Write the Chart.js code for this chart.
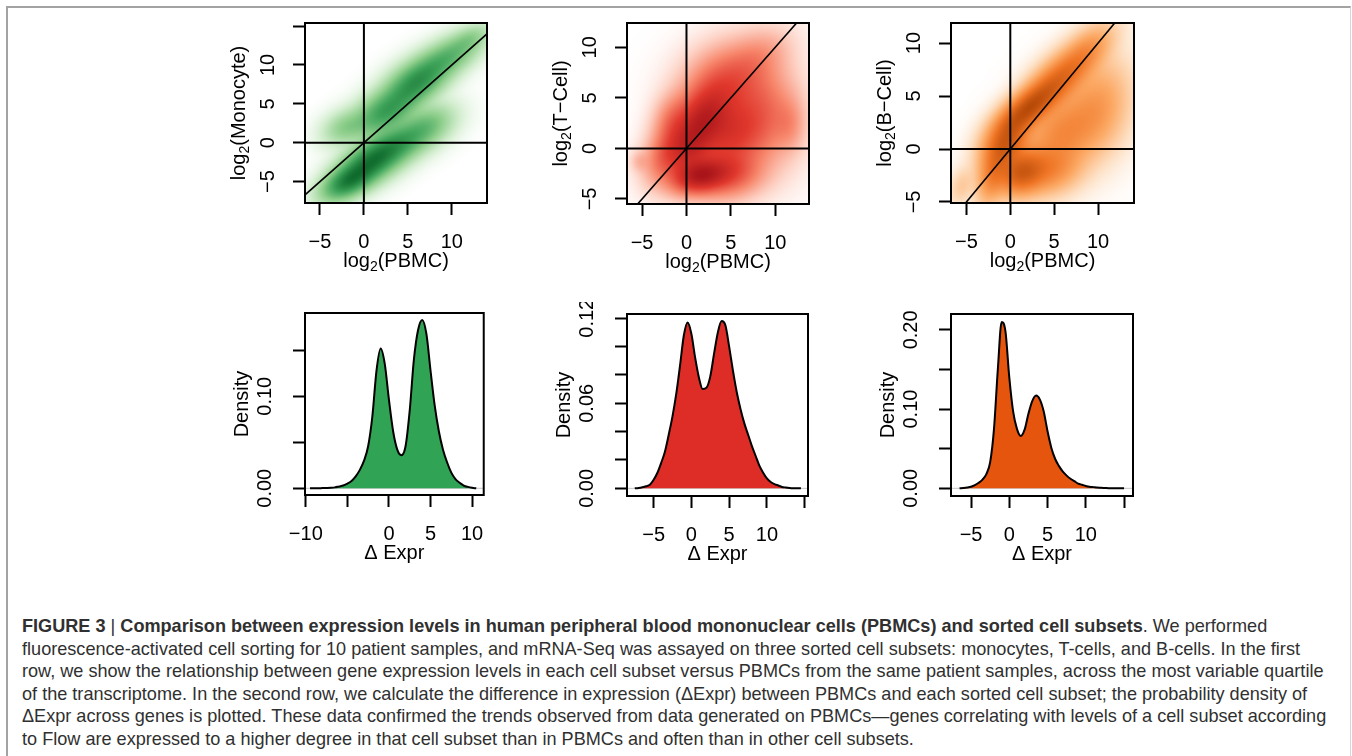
<!DOCTYPE html>
<html>
<head>
<meta charset="utf-8">
<script src="https://cdn.jsdelivr.net/npm/chart.js@4.4.1/dist/chart.umd.min.js"></script>
<style>
html, body { margin: 0; padding: 0; background: #fff; }
body { width: 1352px; height: 756px; position: relative; overflow: hidden; font-family: "Liberation Sans", Arial, sans-serif; }
#frame { position: absolute; left: 6px; top: 6px; width: 1342px; height: 800px; border-top: 2px solid #a3a3a3; border-left: 2px solid #a3a3a3; border-right: 1px solid #d6d6d6; }
#caption { position: absolute; left: 22px; top: 615px; color: #303030; font-size: 18.5px; line-height: 22.6px; white-space: nowrap; transform-origin: 0 0; }
#caption .ln { display: block; }
</style>
</head>
<body>
<div id="frame"></div>
<div id="caption">
  <div class="ln"><span><b>FIGURE 3</b> | <b>Comparison between expression levels in human peripheral blood mononuclear cells (PBMCs) and sorted cell subsets</b>. We performed</span></div>
  <div class="ln"><span>fluorescence-activated cell sorting for 10 patient samples, and mRNA-Seq was assayed on three sorted cell subsets: monocytes, T-cells, and B-cells. In the first</span></div>
  <div class="ln"><span>row, we show the relationship between gene expression levels in each cell subset versus PBMCs from the same patient samples, across the most variable quartile</span></div>
  <div class="ln"><span>of the transcriptome. In the second row, we calculate the difference in expression (ΔExpr) between PBMCs and each sorted cell subset; the probability density of</span></div>
  <div class="ln"><span>ΔExpr across genes is plotted. These data confirmed the trends observed from data generated on PBMCs—genes correlating with levels of a cell subset according</span></div>
  <div class="ln"><span>to Flow are expressed to a higher degree in that cell subset than in PBMCs and often than in other cell subsets.</span></div>
</div>
<script>
// ---------- top row: smoothed scatter clouds, blob = [x, y, sdX, sdY, rho, weight]
const monoBlobs = [
  [0.8, -2.5, 2.0, 1.7, 0.55, 1.0],
  [-1.8, -5.0, 1.6, 1.3, 0.5, 0.85],
  [3.8, -0.2, 2.0, 1.6, 0.5, 0.55],
  [7.0, 2.0, 1.7, 1.5, 0.4, 0.3],
  [6.0, 7.8, 2.0, 1.8, 0.55, 0.75],
  [2.5, 4.0, 2.0, 1.7, 0.5, 0.6],
  [9.5, 11.0, 2.0, 1.6, 0.6, 0.38],
  [-2.0, 2.0, 1.4, 1.2, 0.3, 0.18],
  [12.0, 13.3, 1.2, 1.0, 0.5, 0.14]
];
const tcellBlobs = [
  [1.5, -2.7, 1.8, 1.0, 0.2, 1.0],
  [1.8, 2.8, 1.8, 2.0, 0.3, 0.85],
  [0.0, 0.0, 1.6, 1.6, 0.2, 0.6],
  [5.0, 1.5, 2.2, 2.2, 0.1, 0.55],
  [4.5, 6.5, 2.5, 2.0, 0.2, 0.4],
  [8.5, 3.5, 2.2, 2.8, 0.0, 0.3],
  [4.5, -2.5, 2.2, 1.3, 0.1, 0.45],
  [-2.5, -1.0, 1.3, 1.5, 0.2, 0.25],
  [-1.5, 2.5, 1.2, 1.6, 0.2, 0.25],
  [8.0, 9.0, 2.0, 1.5, 0.3, 0.12],
  [-5.2, -1.3, 0.6, 0.6, 0.0, 0.06],
  [11.5, 2.5, 1.0, 1.5, 0.0, 0.12]
];
const bcellBlobs = [
  [2.0, 3.8, 2.0, 1.5, 0.7, 1.0],
  [-0.5, 0.5, 1.5, 1.5, 0.4, 0.8],
  [1.3, -2.2, 1.6, 1.2, 0.2, 0.8],
  [5.5, 6.5, 2.0, 1.6, 0.6, 0.55],
  [8.5, 9.0, 1.8, 1.5, 0.6, 0.3],
  [6.0, 1.5, 2.5, 2.2, 0.3, 0.35],
  [10.0, 4.0, 2.0, 2.5, 0.2, 0.22],
  [4.5, -2.0, 2.0, 1.3, 0.2, 0.3],
  [-2.0, -2.5, 1.0, 1.5, 0.3, 0.35],
  [-5.5, -3.5, 0.8, 1.0, 0.3, 0.06]
];
const guideSpan = [-50, 50];

const monoXRange = [-6.7, 14.0], monoYRange = [-7.75, 15.4];
const tcellXRange = [-6.7, 13.8], tcellYRange = [-5.5, 12.4];
const bcellXRange = [-6.76, 14.1], bcellYRange = [-5.1, 11.9];
const scatterXTicks = [-5, 0, 5, 10];
const scatterXLabels = ['\u22125', '0', '5', '10'];
const monoYTicks = [-5, 0, 5, 10, 15];
const monoYLabels = ['\u22125', '0', '5', '10', ''];
const cellYTicks = [-5, 0, 5, 10];
const cellYLabels = ['\u22125', '0', '5', '10'];

// ---------- bottom row: density of delta expression
const monoDeltaX = [-9.5, -9, -8.5, -8, -7.5, -7, -6.5, -6, -5.5, -5, -4.5, -4, -3.5, -3, -2.5, -2, -1.5, -1, -0.5, 0,
  0.5, 1, 1.5, 2, 2.5, 3, 3.5, 4, 4.5, 5, 5.5, 6, 6.5, 7, 7.5, 8, 8.5, 9, 9.5, 10, 10.5];
const monoDensity = [0, 0, 0, 0.0002, 0.0003, 0.0005, 0.001, 0.002, 0.003, 0.005, 0.008, 0.013, 0.020, 0.030, 0.046, 0.078, 0.128, 0.152, 0.135, 0.096,
  0.062, 0.042, 0.036, 0.046, 0.085, 0.140, 0.172, 0.183, 0.168, 0.128, 0.090, 0.062, 0.042, 0.028, 0.017, 0.010, 0.006, 0.003, 0.0015, 0.0005, 0];
const tcellDeltaX = [-7.5, -7, -6.5, -6, -5.5, -5, -4.5, -4, -3.5, -3, -2.5, -2, -1.5, -1, -0.5, 0, 0.5, 1, 1.5, 2, 2.5, 3, 3.5,
  4, 4.5, 5, 5.5, 6, 6.5, 7, 7.5, 8, 8.5, 9, 9.5, 10, 10.5, 11, 11.5, 12, 12.5, 13, 13.5, 14, 14.5];
const tcellDensity = [0, 0.0003, 0.0008, 0.0015, 0.0025, 0.006, 0.011, 0.018, 0.026, 0.038, 0.051, 0.067, 0.087, 0.108, 0.117, 0.109, 0.092, 0.078, 0.070, 0.071, 0.079, 0.095, 0.110,
  0.118, 0.115, 0.100, 0.083, 0.068, 0.056, 0.046, 0.038, 0.030, 0.023, 0.016, 0.011, 0.007, 0.0045, 0.003, 0.002, 0.001, 0.0006, 0.0003, 0.0001, 0, 0];
const bcellDeltaX = [-6.5, -6, -5.5, -5, -4.5, -4, -3.5, -3, -2.5, -2, -1.5, -1, -0.5, 0, 0.5, 1, 1.5, 2, 2.5, 3, 3.5, 4,
  4.5, 5, 5.5, 6, 6.5, 7, 7.5, 8, 8.5, 9, 9.5, 10, 10.5, 11, 11.5, 12, 12.5, 13, 13.5, 14, 14.5, 15];
const bcellDensity = [0, 0.0004, 0.001, 0.002, 0.004, 0.007, 0.011, 0.018, 0.033, 0.075, 0.150, 0.210, 0.198, 0.140, 0.097, 0.075, 0.066, 0.074, 0.094, 0.110, 0.117, 0.112,
  0.097, 0.072, 0.051, 0.037, 0.028, 0.021, 0.016, 0.012, 0.009, 0.006, 0.0045, 0.003, 0.002, 0.0015, 0.001, 0.0006, 0.0004, 0.0002, 0.0001, 0, 0, 0];

const monoDXRange = [-10.1, 11.4], monoDYRange = [-0.0073, 0.1905];
const tcellDXRange = [-8.53, 15.44], tcellDYRange = [-0.0054, 0.123];
const bcellDXRange = [-7.62, 16.17], bcellDYRange = [-0.0097, 0.220];
const monoDXTicks = [-10, -5, 0, 5, 10];
const monoDXLabels = ['\u221210', '', '0', '5', '10'];
const cellDXTicks = [-5, 0, 5, 10, 15];
const cellDXLabels = ['\u22125', '0', '5', '10', ''];
const monoDYTicks = [0, 0.05, 0.10, 0.15];
const monoDYLabels = ['0.00', '', '0.10', ''];
const tcellDYTicks = [0, 0.02, 0.04, 0.06, 0.08, 0.10, 0.12];
const tcellDYLabels = ['0.00', '', '', '0.06', '', '', '0.12'];
const bcellDYTicks = [0, 0.05, 0.10, 0.15, 0.20];
const bcellDYLabels = ['0.00', '', '0.10', '', '0.20'];

// axis titles ([text, isSubscript])
const pbmcTitle = [['log', 0], ['2', 1], ['(PBMC)', 0]];
const monoTitle = [['log', 0], ['2', 1], ['(Monocyte)', 0]];
const tcellTitle = [['log', 0], ['2', 1], ['(T\u2212Cell)', 0]];
const bcellTitle = [['log', 0], ['2', 1], ['(B\u2212Cell)', 0]];
const exprTitle = [['\u0394 Expr', 0]];
const densTitle = [['Density', 0]];

// ---------- styles
const greenRamp = ['#ffffff', '#d4eed0', '#8fcf8c', '#3fa45a', '#0e6b2c'];
const redRamp = ['#ffffff', '#fdd3c6', '#f7876c', '#e0372c', '#a8141a'];
const orangeRamp = ['#ffffff', '#fde0c4', '#fcaa66', '#ef7424', '#b84a08'];
const rampStops = [0, 0.18, 0.45, 0.72, 1];
const AXIS_FONT = '"Liberation Sans", Arial, sans-serif';
const PAD_L = 90, PAD_T = 12, PAD_R = 12, PAD_B = 72;

Chart.defaults.font.family = AXIS_FONT;

function hexRgb(h) {
  return [parseInt(h.slice(1, 3), 16), parseInt(h.slice(3, 5), 16), parseInt(h.slice(5, 7), 16)];
}

function rampColor(ramp, t) {
  t = Math.max(0, Math.min(1, t));
  for (let k = 1; k < rampStops.length; k++) {
    if (t <= rampStops[k]) {
      const f = (t - rampStops[k - 1]) / (rampStops[k] - rampStops[k - 1]);
      const a = ramp[k - 1], b = ramp[k];
      return [a[0] + (b[0] - a[0]) * f, a[1] + (b[1] - a[1]) * f, a[2] + (b[2] - a[2]) * f];
    }
  }
  return ramp[ramp.length - 1];
}

function blobField(blobs, x, y) {
  let s = 0;
  for (const b of blobs) {
    const dx = (x - b[0]) / b[2], dy = (y - b[1]) / b[3], r = b[4];
    const q = (dx * dx - 2 * r * dx * dy + dy * dy) / (1 - r * r);
    s += b[5] * Math.exp(-0.5 * q);
  }
  return s;
}

// paints the density cloud cell by cell through the chart scales
const smoothPlugin = {
  id: 'smooth',
  beforeDatasetsDraw(chart, args, opts) {
    if (!opts.blobs) return;
    const a = chart.chartArea;
    const xs = chart.scales.x, ys = chart.scales.y;
    const w = Math.round(a.right - a.left), h = Math.round(a.bottom - a.top);
    const vals = new Float32Array(w * h);
    let vmax = 0;
    for (let j = 0; j < h; j++) {
      const yv = ys.getValueForPixel(a.top + j + 0.5);
      for (let i = 0; i < w; i++) {
        const v = blobField(opts.blobs, xs.getValueForPixel(a.left + i + 0.5), yv);
        vals[j * w + i] = v;
        if (v > vmax) vmax = v;
      }
    }
    const ramp = opts.ramp.map(hexRgb);
    const off = document.createElement('canvas');
    off.width = w; off.height = h;
    const octx = off.getContext('2d');
    const img = octx.createImageData(w, h);
    for (let k = 0; k < w * h; k++) {
      const c = rampColor(ramp, Math.pow(vals[k] / vmax, 0.42));
      img.data[k * 4] = c[0]; img.data[k * 4 + 1] = c[1]; img.data[k * 4 + 2] = c[2]; img.data[k * 4 + 3] = 255;
    }
    octx.putImageData(img, 0, 0);
    chart.ctx.drawImage(off, a.left, a.top);
  }
};

function drawTitle(ctx, parts, cx, cy, rot) {
  const fonts = ['20px ' + AXIS_FONT, '14px ' + AXIS_FONT];
  ctx.save();
  ctx.translate(cx, cy);
  ctx.rotate(rot);
  ctx.textBaseline = 'middle';
  ctx.textAlign = 'left';
  ctx.fillStyle = '#000';
  let total = 0;
  parts.forEach(p => { ctx.font = fonts[p[1]]; total += ctx.measureText(p[0]).width; });
  let x = -total / 2;
  parts.forEach(p => {
    ctx.font = fonts[p[1]];
    ctx.fillText(p[0], x, p[1] ? 6 : 0);
    x += ctx.measureText(p[0]).width;
  });
  ctx.restore();
}

// box, rotated y tick labels and axis titles (R base-graphics look)
const framePlugin = {
  id: 'frame',
  afterDraw(chart, args, opts) {
    const ctx = chart.ctx, a = chart.chartArea;
    ctx.save();
    ctx.strokeStyle = '#000';
    ctx.lineWidth = 2;
    ctx.strokeRect(a.left, a.top, a.right - a.left, a.bottom - a.top);
    ctx.fillStyle = '#000';
    ctx.font = '20px ' + AXIS_FONT;
    ctx.textAlign = 'center';
    ctx.textBaseline = 'middle';
    const ys = chart.scales.y;
    ys.ticks.forEach(t => {
      if (!t.label) return;
      ctx.save();
      ctx.translate(a.left - opts.yLabelGap, ys.getPixelForValue(t.value));
      ctx.rotate(-Math.PI / 2);
      ctx.fillText(t.label, 0, 0);
      ctx.restore();
    });
    ctx.restore();
    drawTitle(ctx, opts.xTitle, (a.left + a.right) / 2, a.bottom + 58, 0);
    drawTitle(ctx, opts.yTitle, a.left - opts.yTitleGap, (a.top + a.bottom) / 2, -Math.PI / 2);
  }
};

function axis(range, ticks, labels, isX) {
  return {
    type: 'linear',
    min: range[0],
    max: range[1],
    bounds: 'data',
    afterBuildTicks: s => { s.ticks = ticks.map(v => ({ value: v })); },
    afterFit: s => { if (isX) s.height = PAD_B; else s.width = PAD_L; },
    grid: { display: true, drawOnChartArea: false, drawTicks: true, tickLength: 12, tickWidth: 2, tickColor: '#000' },
    border: { display: true, color: '#000', width: 2 },
    ticks: {
      display: isX, autoSkip: false, maxRotation: 0, minRotation: 0, padding: 15,
      color: '#000', font: { size: 20 },
      callback: (v, i) => labels[i]
    }
  };
}

function addCanvas(box) {
  const c = document.createElement('canvas');
  const w = box[2] - box[0] + PAD_L + PAD_R, h = box[3] - box[1] + PAD_T + PAD_B;
  c.width = w; c.height = h;
  c.style.cssText = 'position:absolute;left:' + (box[0] - PAD_L) + 'px;top:' + (box[1] - PAD_T) + 'px;width:' + w + 'px;height:' + h + 'px';
  document.body.appendChild(c);
  return c;
}

function buildPanel(p) {
  return new Chart(addCanvas(p.box), {
    type: 'line',
    data: { datasets: p.datasets },
    options: {
      responsive: false,
      animation: false,
      devicePixelRatio: 1,
      layout: { padding: { left: 0, top: PAD_T, right: PAD_R, bottom: 0 } },
      elements: { point: { radius: 0 } },
      scales: {
        x: axis(p.xRange, p.xTicks, p.xLabels, true),
        y: axis(p.yRange, p.yTicks, p.yLabels, false)
      },
      plugins: {
        legend: { display: false },
        tooltip: { enabled: false },
        smooth: p.smooth || {},
        frame: { xTitle: p.xTitle, yTitle: p.yTitle, yLabelGap: p.yLabelGap, yTitleGap: p.yTitleGap }
      }
    },
    plugins: [smoothPlugin, framePlugin]
  });
}

function guideLines() {
  const line = pts => ({ data: pts, borderColor: '#000', borderWidth: 2, pointRadius: 0, fill: false, tension: 0 });
  return [
    line(guideSpan.map(v => ({ x: v, y: 0 }))),
    line(guideSpan.map(v => ({ x: 0, y: v }))),
    Object.assign(line(guideSpan.map(v => ({ x: v, y: v }))), { borderWidth: 1.6 })
  ];
}

function densitySets(xs, ys, fillColor, range) {
  return [
    {
      data: xs.map((x, i) => ({ x: x, y: ys[i] })),
      borderColor: '#000', borderWidth: 2, backgroundColor: fillColor,
      fill: 'origin', pointRadius: 0, cubicInterpolationMode: 'monotone'
    },
    {
      data: range.map(v => ({ x: v, y: 0 })),
      borderColor: '#c4c4c4', borderWidth: 1, pointRadius: 0, fill: false
    }
  ];
}

// ---------- top row
buildPanel({ box: [305, 23, 487, 203], xRange: monoXRange, yRange: monoYRange,
  xTicks: scatterXTicks, xLabels: scatterXLabels, yTicks: monoYTicks, yLabels: monoYLabels,
  xTitle: pbmcTitle, yTitle: monoTitle, yLabelGap: 37, yTitleGap: 66,
  smooth: { blobs: monoBlobs, ramp: greenRamp }, datasets: guideLines() });
buildPanel({ box: [627, 23, 809, 204], xRange: tcellXRange, yRange: tcellYRange,
  xTicks: scatterXTicks, xLabels: scatterXLabels, yTicks: cellYTicks, yLabels: cellYLabels,
  xTitle: pbmcTitle, yTitle: tcellTitle, yLabelGap: 37, yTitleGap: 66,
  smooth: { blobs: tcellBlobs, ramp: redRamp }, datasets: guideLines() });
buildPanel({ box: [951, 23, 1134, 203], xRange: bcellXRange, yRange: bcellYRange,
  xTicks: scatterXTicks, xLabels: scatterXLabels, yTicks: cellYTicks, yLabels: cellYLabels,
  xTitle: pbmcTitle, yTitle: bcellTitle, yLabelGap: 37, yTitleGap: 66,
  smooth: { blobs: bcellBlobs, ramp: orangeRamp }, datasets: guideLines() });

// ---------- bottom row
buildPanel({ box: [305, 313, 487, 495], xRange: monoDXRange, yRange: monoDYRange,
  xTicks: monoDXTicks, xLabels: monoDXLabels, yTicks: monoDYTicks, yLabels: monoDYLabels,
  xTitle: exprTitle, yTitle: densTitle, yLabelGap: 40, yTitleGap: 63,
  datasets: densitySets(monoDeltaX, monoDensity, '#31a354', monoDXRange) });
buildPanel({ box: [627, 314, 808, 496], xRange: tcellDXRange, yRange: tcellDYRange,
  xTicks: cellDXTicks, xLabels: cellDXLabels, yTicks: tcellDYTicks, yLabels: tcellDYLabels,
  xTitle: exprTitle, yTitle: densTitle, yLabelGap: 40, yTitleGap: 63,
  datasets: densitySets(tcellDeltaX, tcellDensity, '#de2d26', tcellDXRange) });
buildPanel({ box: [951, 314, 1133, 496], xRange: bcellDXRange, yRange: bcellDYRange,
  xTicks: cellDXTicks, xLabels: cellDXLabels, yTicks: bcellDYTicks, yLabels: bcellDYLabels,
  xTitle: exprTitle, yTitle: densTitle, yLabelGap: 40, yTitleGap: 63,
  datasets: densitySets(bcellDeltaX, bcellDensity, '#e6550d', bcellDXRange) });

// caption: condense the text so the second line spans the same width as the figure's
const capLines = document.querySelectorAll('#caption .ln span');
const capScale = 1278 / capLines[1].getBoundingClientRect().width;
document.getElementById('caption').style.transform = 'scaleX(' + capScale + ')';
</script>
</body>
</html>
